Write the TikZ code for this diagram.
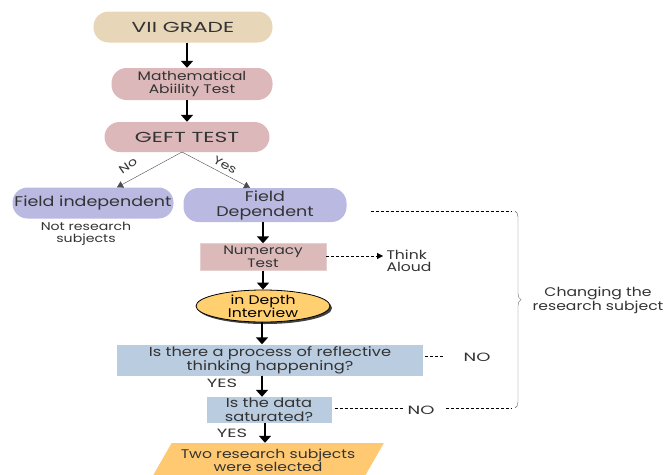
\documentclass[tikz,border=0pt]{standalone}
\usepackage{fontspec}
\setmainfont{Poppins}[FakeStretch=1.25]
\newfontfamily\capsfont{Poppins}[FakeStretch=1.5]
\usepackage{tikz}
\usetikzlibrary{arrows.meta,shapes.geometric,decorations.pathreplacing,calc}

\definecolor{gradetan}{HTML}{E8D6B8}
\definecolor{testpink}{HTML}{DDB8BA}
\definecolor{fieldblue}{HTML}{B9B9E2}
\definecolor{numpink}{HTML}{DCBABA}
\definecolor{talkorange}{HTML}{FFCF70}
\definecolor{askblue}{HTML}{B9CCE0}
\definecolor{pickorange}{HTML}{FFC972}

\begin{document}
\begin{tikzpicture}[x=1pt,y=-1pt,
  pill/.style={rounded corners=15pt,inner sep=0pt,align=center,text=black!80},
  askbox/.style={fill=askblue,inner sep=0pt,align=center,font=\fontsize{13}{14}\selectfont,text=black!80},
  thickarrow/.style={line width=2.6pt,-{Triangle[length=7pt,width=12pt]}},
  thinarrow/.style={thin,black!70,-{Triangle[length=6pt,width=7pt]}},
  dotline/.style={dashed,thin,dash pattern=on 3pt off 2pt},
  note/.style={font=\fontsize{12.5}{12.5}\selectfont,text=black!80,align=center},
  capsnote/.style={font=\capsfont\fontsize{12}{12}\selectfont,text=black!80}]
\useasboundingbox (0,0) rectangle (666,474);

% main column
\node[pill,fill=gradetan,minimum width=179pt,minimum height=31pt,font=\capsfont\fontsize{14.5}{15}\selectfont] (grade) at (183,27) {VII GRADE};
\node[pill,fill=testpink,minimum width=161pt,minimum height=32pt,font=\fontsize{12.4}{13}\selectfont] (math) at (192,84) {Mathematical\\Abiility Test};
\node[pill,fill=testpink,minimum width=165pt,minimum height=30pt,font=\capsfont\fontsize{14.5}{15}\selectfont] (geft) at (187,137) {GEFT TEST};
\node[pill,fill=fieldblue,minimum width=161pt,minimum height=31pt,font=\fontsize{14}{14}\selectfont] (indep) at (93,203) {Field independent};
\node[note,font=\fontsize{11.3}{12.5}\selectfont] (notsubj) at (86,234) {Not research\\subjects};
\node[pill,fill=fieldblue,minimum width=163pt,minimum height=34pt,font=\fontsize{14}{15}\selectfont] (dep) at (265,205) {Field\\Dependent};
\node[fill=numpink,draw=numpink!70,inner sep=0pt,minimum width=126pt,minimum height=27pt,align=center,font=\fontsize{12.2}{12.5}\selectfont,text=black!80] (numer) at (263,257) {Numeracy\\Test};
\node[note,align=left,anchor=west] (think) at (383,261) {Think\\Aloud};
\node[ellipse,fill=talkorange,draw=black,thick,minimum width=134pt,minimum height=31pt,inner sep=0pt,align=center,font=\fontsize{12.5}{13}\selectfont,
  preaction={fill=black!75,transform canvas={xshift=2pt,yshift=-2pt}}] (interview) at (263,306) {in Depth\\Interview};
\node[askbox,minimum width=306pt,minimum height=31pt] (reflect) at (270,360) {Is there a process of reflective\\thinking happening?};
\node[askbox,minimum width=125pt,minimum height=26pt] (satur) at (269,410) {Is the data\\saturated?};
\node[trapezium,trapezium left angle=52,trapezium right angle=128,trapezium stretches=true,fill=pickorange,minimum width=232pt,minimum height=34pt,inner sep=0pt,align=center,font=\fontsize{12.5}{13}\selectfont,text=black!80] (chosen) at (268,460) {Two research subjects\\were selected};

% labels
\node[note,rotate=35,font=\fontsize{11.5}{12}\selectfont] (nolab) at (128,166) {No};
\node[note,rotate=-30,font=\fontsize{11.5}{12}\selectfont] (yeslab) at (225,165) {Yes};
\node[capsnote] (yesa) at (222,383) {YES};
\node[capsnote] (yesb) at (232,433) {YES};
\node[capsnote] (noa) at (477,357) {NO};
\node[capsnote] (nob) at (421,410) {NO};
\node[note] (change) at (598,300) {Changing the\\research subject};

% connectors
\coordinate (split) at (182,152);
\coordinate (cut) at (512,211);
\coordinate (cutb) at (512,408);
\draw[thickarrow] (grade.south -| 187,0) -- (math.north -| 187,0);
\draw[thickarrow] (math.south -| 187,0) -- (geft.north -| 187,0);
\draw[thinarrow] (split) -- (indep.north -| 117,0);
\draw[thinarrow] (split) -- (dep.north -| 250,0);
\draw[thickarrow] (dep.south -| numer.north) -- (numer);
\draw[thickarrow] (numer) -- (interview);
\draw[thickarrow] (interview.south -| 262,0) -- (reflect.north -| 262,0);
\draw[thickarrow] (reflect.south -| 262,0) -- (satur.north -| 262,0);
\draw[thickarrow] (satur.south -| 265,0) -- (chosen.north -| 265,0);
\draw[dotline,-{Triangle[length=6pt,width=6pt]}] (numer.east |- 0,256) -- (think.west |- 0,256);
\draw[dotline] ($(dep.east |- cut)+(24,0)$) -- (cut);
\draw[dotline] ($(reflect.east |- 0,356)+(2,0)$) -- ++(18,0);
\draw[dotline] ($(satur.east |- 0,408)+(3,0)$) -- (nob.west |- 0,408);
\draw[dotline] ($(nob.east |- 0,408)+(8,0)$) -- (cutb);
\draw[thin,black!60,decorate,decoration={brace,amplitude=6pt,aspect=0.45}] ($(cut)+(3,0)$) -- ($(cutb)+(3,0)$);
\end{tikzpicture}
\end{document}
